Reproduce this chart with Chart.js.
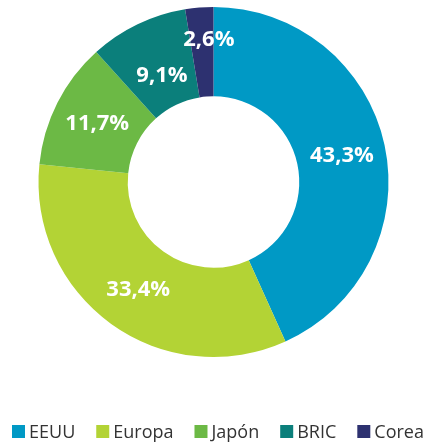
<!DOCTYPE html>
<html>
<head>
<meta charset="utf-8">
<script src="https://cdn.jsdelivr.net/npm/chart.js@4"></script>
<style>
  html, body { margin: 0; padding: 0; background: #fff; }
  #wrap { width: 423px; height: 443px; }
</style>
</head>
<body>
<div id="wrap"><canvas id="chartRegiones"></canvas></div>
<script>
const regiones = ['EEUU', 'Europa', 'Japón', 'BRIC', 'Corea'];
const porcentajes = [43.3, 33.4, 11.7, 9.1, 2.6];
const colores = ['#0099c5', '#b3d335', '#6cb945', '#0b7f7b', '#2d3170'];

// etiquetas de porcentaje dentro de cada sector, con coma decimal
const etiquetasSector = {
    id: 'etiquetasSector',
    afterDatasetsDraw(chart, args, opts) {
        const ctx = chart.ctx;
        const meta = chart.getDatasetMeta(0);
        ctx.save();
        ctx.font = 'bold 22px "Open Sans"';
        ctx.fillStyle = '#fff';
        ctx.textAlign = 'center';
        ctx.textBaseline = 'middle';
        meta.data.forEach((arc, i) => {
            const p = arc.tooltipPosition();
            const n = opts.ajustes[i] || [0, 0];
            const txt = porcentajes[i].toFixed(1).replace('.', ',') + '%';
            ctx.fillText(txt, p.x + n[0], p.y + n[1]);
        });
        ctx.restore();
    }
};

// leyenda en una sola fila, más compacta que la de Chart.js
const leyendaFila = {
    id: 'leyendaFila',
    afterDraw(chart, args, opts) {
        const ctx = chart.ctx;
        const labels = chart.data.labels;
        const fondo = chart.data.datasets[0].backgroundColor;
        ctx.save();
        ctx.font = opts.size + 'px "Open Sans"';
        ctx.textBaseline = 'alphabetic';
        ctx.textAlign = 'left';
        let x = opts.x;
        labels.forEach((txt, i) => {
            ctx.fillStyle = fondo[i];
            ctx.fillRect(x, opts.y - opts.box, opts.box, opts.box);
            ctx.fillStyle = opts.color;
            ctx.fillText(txt, x + opts.box + opts.gap, opts.y);
            x += opts.box + opts.gap + ctx.measureText(txt).width + opts.spacing;
        });
        ctx.restore();
    }
};

const ctxRegiones = document.getElementById('chartRegiones');
const chartRegiones = new Chart(ctxRegiones, {
    type: 'doughnut',
    data: {
        labels: regiones,
        datasets: [{
            data: porcentajes,
            backgroundColor: colores,
            borderWidth: 0
        }]
    },
    options: {
        responsive: true,
        maintainAspectRatio: false,
        animation: false,
        cutout: '49%',
        layout: {
            padding: { top: 7, left: 4, right: 0, bottom: 86 }
        },
        plugins: {
            tooltip: { enabled: false },
            legend: { display: false },
            etiquetasSector: {
                ajustes: [[1, 1], [1, 2], [0, 1], [5, 11], [6, -12]]
            },
            leyendaFila: {
                x: 12, y: 438, box: 13, gap: 4, spacing: 21,
                size: 18, color: '#333'
            }
        }
    },
    plugins: [etiquetasSector, leyendaFila]
});
</script>
</body>
</html>
